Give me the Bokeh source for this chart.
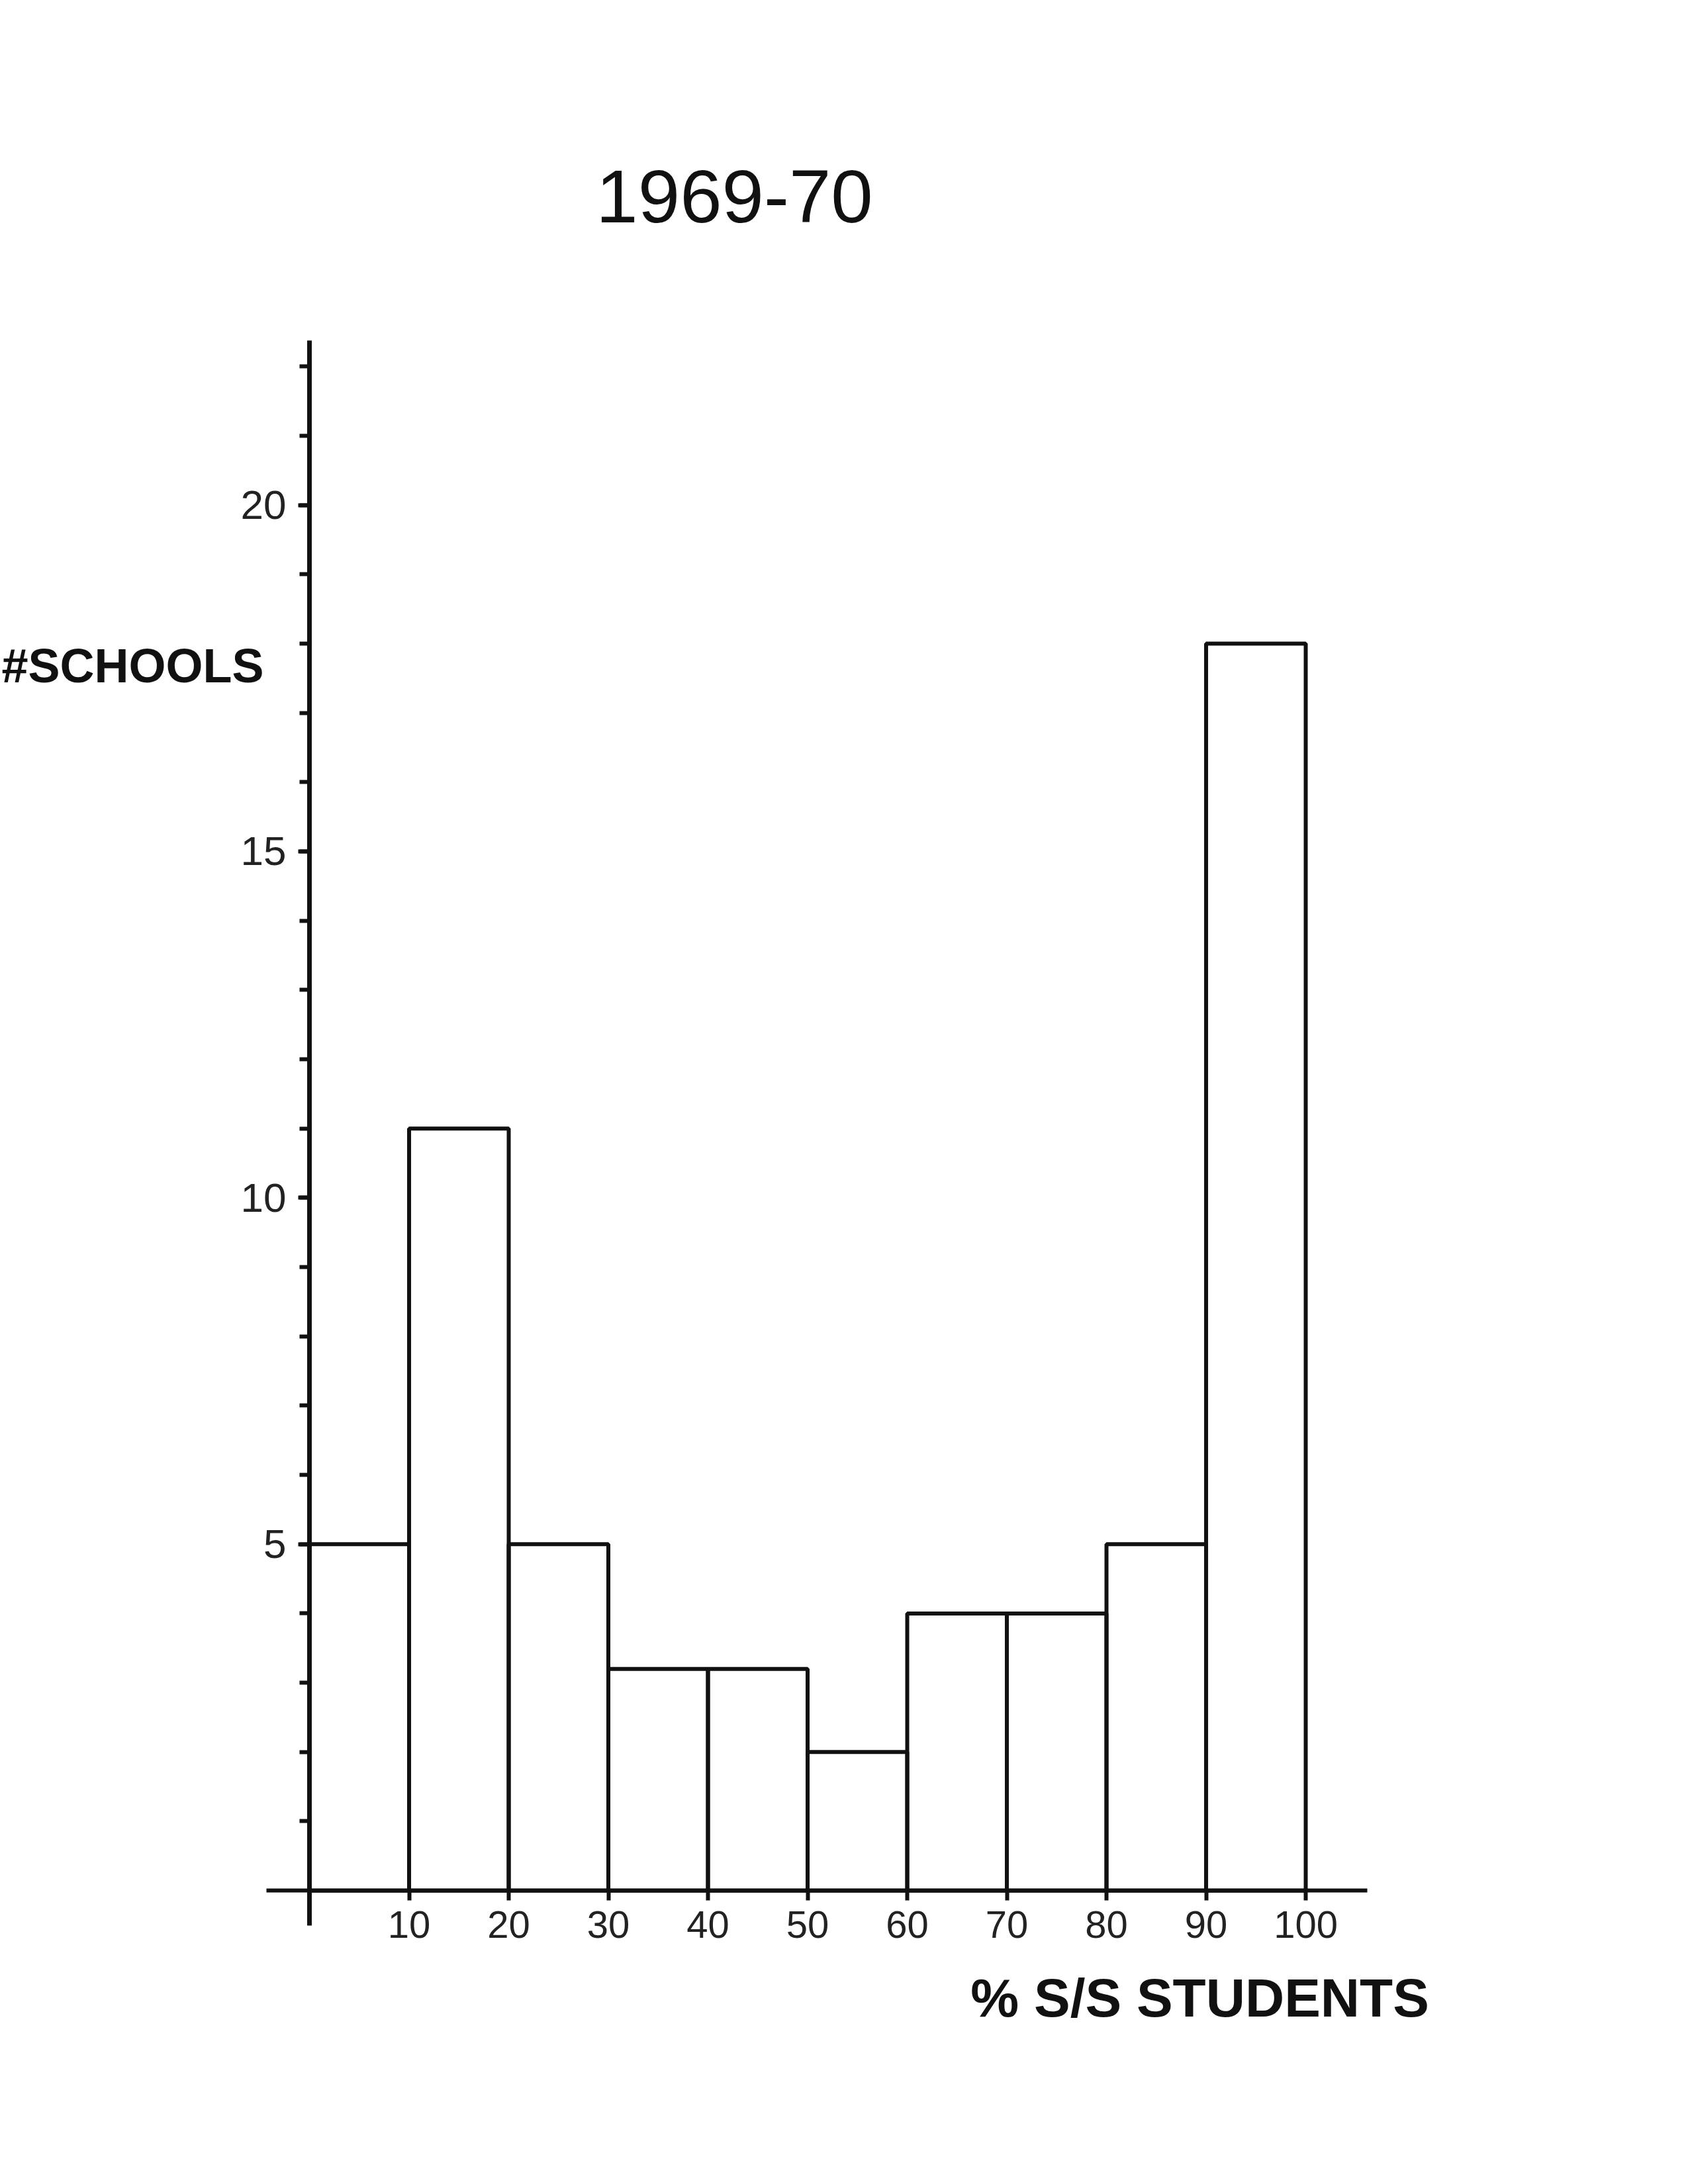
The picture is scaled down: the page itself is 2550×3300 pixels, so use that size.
from bokeh.plotting import figure
from bokeh.models import Range1d, FixedTicker, Label
from bokeh.embed import file_html
from bokeh.resources import INLINE

# ---- data ----
bin_left = [0, 10, 20, 30, 40, 50, 60, 70, 80, 90]
bin_right = [10, 20, 30, 40, 50, 60, 70, 80, 90, 100]
schools = [5, 11, 5, 3.2, 3.2, 2, 4, 4, 5, 18]
x_ticks = [10, 20, 30, 40, 50, 60, 70, 80, 90, 100]
y_ticks = [5, 10, 15, 20]
y_minor = list(range(1, 23))

title_text = "1969-70"
y_label_text = "#SCHOOLS"
x_label_text = "% S/S STUDENTS"

W, H = 2534, 3284
# page pixel -> data: x = (px - 475) / 15.05 ; y = (2862 - py) / 104.6
p = figure(width=W, height=H, output_backend="svg", toolbar_location=None,
           x_range=Range1d(-31.03, 137.34), y_range=Range1d(-4.087, 27.285),
           min_border_left=0, min_border_right=0,
           min_border_top=0, min_border_bottom=0)
p.background_fill_color = "white"
p.border_fill_color = "white"
p.outline_line_color = None
p.xgrid.grid_line_color = None
p.ygrid.grid_line_color = None

# bars
p.quad(left=bin_left, right=bin_right, bottom=0, top=schools,
       fill_color=None, line_color="#111111", line_width=6)

# x axis
xa = p.xaxis[0]
xa.fixed_location = 0
xa.bounds = (-4.3, 106.2)
xa.ticker = FixedTicker(ticks=x_ticks)
xa.axis_line_width = 6
xa.axis_line_color = "#111111"
xa.major_tick_line_width = 6
xa.major_tick_line_color = "#111111"
xa.major_tick_out = 15
xa.major_tick_in = 0
xa.minor_tick_line_color = None
xa.major_label_standoff = 16
xa.major_label_text_font = "Liberation Sans"
xa.major_label_text_font_size = "58px"
xa.major_label_text_color = "#222222"

# y axis
ya = p.yaxis[0]
ya.fixed_location = 0
ya.bounds = (-0.5, 22.37)
ya.ticker = FixedTicker(ticks=y_ticks, minor_ticks=y_minor)
ya.axis_line_width = 7
ya.axis_line_color = "#111111"
ya.major_tick_line_width = 6
ya.major_tick_line_color = "#111111"
ya.major_tick_out = 17
ya.major_tick_in = 0
ya.minor_tick_line_width = 6
ya.minor_tick_line_color = "#111111"
ya.minor_tick_out = 15
ya.minor_tick_in = 0
ya.major_label_standoff = 18
ya.major_label_text_font = "Liberation Sans"
ya.major_label_text_font_size = "62px"
ya.major_label_text_color = "#222222"

# texts
p.add_layout(Label(x=42.66, y=24.45, text=title_text, text_align="center",
                   text_baseline="middle", text_font="Liberation Sans",
                   text_font_size="114px", text_color="#111111"))
p.add_layout(Label(x=-30.9, y=17.68, text=y_label_text, text_align="left",
                   text_baseline="middle", text_font="Liberation Sans",
                   text_font_size="72px", text_font_style="bold",
                   text_color="#111111"))
p.add_layout(Label(x=89.37, y=-1.55, text=x_label_text, text_align="center",
                   text_baseline="middle", text_font="Liberation Sans",
                   text_font_size="82px", text_font_style="bold",
                   text_color="#111111"))

open("out.html", "w").write(file_html(p, INLINE))
